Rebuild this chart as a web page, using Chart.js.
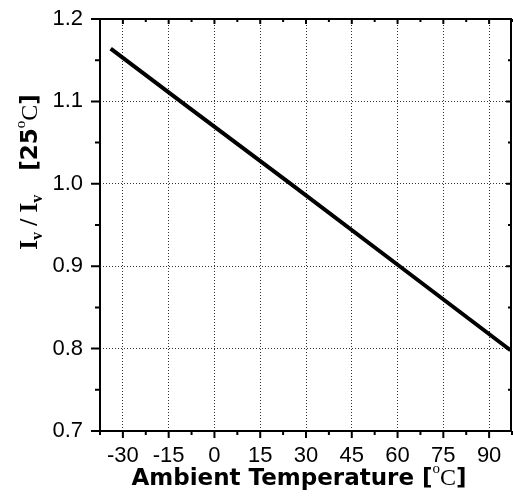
<!DOCTYPE html>
<html>
<head>
<meta charset="utf-8">
<script src="https://cdn.jsdelivr.net/npm/chart.js@4/dist/chart.umd.min.js"></script>
<style>
  html, body { margin: 0; padding: 0; background: #fff; }
  #wrap { width: 513px; height: 497px; }
</style>
</head>
<body>
<div id="wrap"><canvas id="myChart" width="513" height="497"></canvas></div>
<script>
// data
const temps = [-34, -10, 25, 61, 97];
const ratio = [1.164, 1.097, 1.0, 0.899, 0.798];
const xTicks = [-30, -15, 0, 15, 30, 45, 60, 75, 90];
const xMinor = [-37.5, -22.5, -7.5, 7.5, 22.5, 37.5, 52.5, 67.5, 82.5, 97.5];
const yTicks = [0.7, 0.8, 0.9, 1.0, 1.1, 1.2];
const yMinor = [0.75, 0.85, 0.95, 1.05, 1.15];

const tickFont = { family: '"Liberation Sans", Arial, sans-serif', size: 22 };

// frame, minor ticks and titles drawn on top
const framePlugin = {
    id: 'frame',
    afterDraw(chart) {
        const ctx = chart.ctx;
        const a = chart.chartArea;
        const xs = chart.scales.x, ys = chart.scales.y;
        ctx.save();
        ctx.strokeStyle = '#000';
        ctx.lineWidth = 2;
        ctx.strokeRect(a.left, a.top, a.right - a.left - 1, a.bottom - a.top);

        ctx.beginPath();
        xTicks.forEach(v => {
            const px = xs.getPixelForValue(v);
            ctx.moveTo(px, a.bottom); ctx.lineTo(px, a.bottom + 7);
            ctx.moveTo(px, a.top); ctx.lineTo(px, a.top + 5);
        });
        xMinor.forEach(v => {
            const px = xs.getPixelForValue(v);
            ctx.moveTo(px, a.bottom); ctx.lineTo(px, a.bottom + 4);
            ctx.moveTo(px, a.top); ctx.lineTo(px, a.top + 3);
        });
        yTicks.forEach(v => {
            const py = ys.getPixelForValue(v);
            ctx.moveTo(a.left, py); ctx.lineTo(a.left - 9, py);
            ctx.moveTo(a.right - 1, py); ctx.lineTo(a.right - 6, py);
        });
        yMinor.forEach(v => {
            const py = ys.getPixelForValue(v);
            ctx.moveTo(a.left, py); ctx.lineTo(a.left - 5, py);
            ctx.moveTo(a.right - 1, py); ctx.lineTo(a.right - 4, py);
        });
        ctx.stroke();

        ctx.fillStyle = '#000';
        ctx.textBaseline = 'alphabetic';
        ctx.textAlign = 'left';

        // x title
        const sansB = 'bold 23px "DejaVu Sans", Verdana, sans-serif';
        const serif = '24px "Liberation Serif", "Times New Roman", serif';
        const serifB = 'bold 25px "Liberation Serif", "Times New Roman", serif';
        const sub = 'bold 16px "Liberation Serif", serif';
        const sup = '15px "Liberation Serif", serif';
        const xParts = [
            { t: 'Ambient Temperature [', f: sansB, dy: 0 },
            { t: 'o', f: sup, dy: -12 },
            { t: 'C', f: serif, dy: 0 },
            { t: ']', f: sansB, dy: 0 }
        ];
        drawParts(ctx, xParts, 299, 485);

        // y title, rotated
        const yParts = [
            { t: 'I', f: serifB, dy: 0 },
            { t: 'v', f: sub, dy: 5 },
            { t: ' / I', f: serifB, dy: 0 },
            { t: 'v', f: sub, dy: 5 },
            { t: '   [25', f: sansB, dy: 0 },
            { t: 'o', f: sup, dy: -12 },
            { t: 'C', f: serif, dy: 0 },
            { t: ']', f: sansB, dy: 0 }
        ];
        ctx.translate(37, 172);
        ctx.rotate(-Math.PI / 2);
        drawParts(ctx, yParts, 0, 0);
        ctx.restore();
    }
};

function drawParts(ctx, parts, cx, baseY) {
    let total = 0;
    parts.forEach(p => { ctx.font = p.f; total += ctx.measureText(p.t).width; });
    let x = cx - total / 2;
    parts.forEach(p => {
        ctx.font = p.f;
        ctx.fillText(p.t, x, baseY + p.dy);
        x += ctx.measureText(p.t).width;
    });
}

const ctx = document.getElementById('myChart').getContext('2d');
const myChart = new Chart(ctx, {
    type: 'line',
    data: {
        datasets: [{
            data: temps.map((t, i) => ({ x: t, y: ratio[i] })),
            borderColor: '#000',
            borderWidth: 4,
            pointRadius: 0,
            tension: 0,
            fill: false
        }]
    },
    options: {
        responsive: false,
        animation: false,
        layout: { padding: { top: 19, left: 0, right: 1, bottom: 0 } },
        plugins: { legend: { display: false }, tooltip: { enabled: false } },
        scales: {
            x: {
                type: 'linear',
                min: -37.5,
                max: 97.5,
                afterBuildTicks: s => { s.ticks = xTicks.map(v => ({ value: v })); },
                afterFit: s => { s.height = 66; s.paddingLeft = 0; s.paddingRight = 0; },
                ticks: { color: '#000', font: tickFont, padding: 12, maxRotation: 0, autoSkip: false },
                grid: { color: '#333', lineWidth: 1, drawTicks: false },
                border: { display: false, dash: [1, 2] }
            },
            y: {
                min: 0.7,
                max: 1.2,
                afterBuildTicks: s => { s.ticks = yTicks.map(v => ({ value: v })); },
                afterFit: s => { s.width = 100; s.paddingTop = 0; s.paddingBottom = 0; },
                ticks: { color: '#000', font: tickFont, padding: 17, callback: v => v.toFixed(1) },
                grid: { color: '#333', lineWidth: 1, drawTicks: false },
                border: { display: false, dash: [1, 2] }
            }
        }
    },
    plugins: [framePlugin]
});
</script>
</body>
</html>
